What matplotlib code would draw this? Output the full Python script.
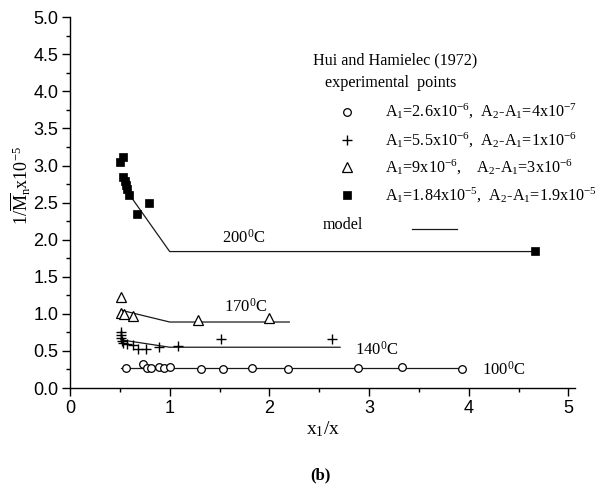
import matplotlib
matplotlib.use("Agg")
import matplotlib.pyplot as plt

plt.rcParams['mathtext.fontset'] = 'custom'
plt.rcParams['mathtext.rm'] = 'Liberation Serif'
plt.rcParams['mathtext.it'] = 'Liberation Serif:italic'
plt.rcParams['mathtext.bf'] = 'Liberation Serif:bold'

SERIF = 'Liberation Serif'
SANS = 'Liberation Sans'

# Experimental points (Hui and Hamielec, 1972)
circ_x = [0.56, 0.735, 0.775, 0.81, 0.895, 0.945, 1.0, 1.31, 1.535, 1.825, 2.19, 2.89, 3.33, 3.935]
circ_y = [0.27, 0.32, 0.27, 0.27, 0.28, 0.265, 0.28, 0.25, 0.26, 0.27, 0.25, 0.27, 0.29, 0.26]

plus_x = [0.51, 0.51, 0.51, 0.52, 0.535, 0.57, 0.63, 0.685, 0.76, 0.895, 1.085, 1.515, 2.63]
plus_y = [0.76, 0.715, 0.67, 0.64, 0.61, 0.59, 0.58, 0.525, 0.52, 0.55, 0.56, 0.66, 0.66]

tri_x = [0.51, 0.515, 0.54, 0.63, 1.285, 2.0]
tri_y = [1.23, 1.015, 1.0, 0.975, 0.915, 0.95]

sq_x = [0.50, 0.53, 0.53, 0.55, 0.56, 0.57, 0.59, 0.79, 0.67, 4.67]
sq_y = [3.05, 3.11, 2.85, 2.79, 2.74, 2.68, 2.60, 2.50, 2.35, 1.85]

# Model curves
m100_x, m100_y = [0.51, 3.935], [0.265, 0.265]
m140_x, m140_y = [0.51, 1.0, 2.71], [0.65, 0.55, 0.55]
m170_x, m170_y = [0.51, 1.0, 2.2], [1.05, 0.89, 0.89]
m200_x, m200_y = [0.60, 1.0, 4.67], [2.60, 1.84, 1.84]

temps = ['100$^0$C', '140$^0$C', '170$^0$C', '200$^0$C']
temp_pos = [(4.135, 0.24), (2.86, 0.51), (1.55, 1.10), (1.52, 2.03)]

legend_labels = [
    'A$_1$=2.6x10$^{-6}$,  A$_2$-A$_1$=4x10$^{-7}$',
    'A$_1$=5.5x10$^{-6}$,  A$_2$-A$_1$=1x10$^{-6}$',
    'A$_1$=9x10$^{-6}$,    A$_2$-A$_1$=3x10$^{-6}$',
    'A$_1$=1.84x10$^{-5}$,  A$_2$-A$_1$=1.9x10$^{-5}$',
]

fig = plt.figure(figsize=(6.11, 4.86), dpi=100)
ax = fig.add_axes([0.1146, 0.2016, 0.827, 0.763])

line_kw = dict(color='#1a1a1a', lw=0.9, zorder=2)
for mx, my in [(m100_x, m100_y), (m140_x, m140_y), (m170_x, m170_y), (m200_x, m200_y)]:
    ax.plot(mx, my, **line_kw)

styles = [
    dict(marker='o', ms=5.5, mfc='white', mec='black', mew=0.9),
    dict(marker='+', ms=6.5, mec='black', mew=1.0),
    dict(marker='^', ms=6.5, mfc='white', mec='black', mew=0.9),
    dict(marker='s', ms=6.0, mfc='black', mec='black', mew=0.5),
]
for (xs, ys), st in zip([(circ_x, circ_y), (plus_x, plus_y), (tri_x, tri_y), (sq_x, sq_y)], styles):
    ax.plot(xs, ys, ls='none', zorder=3, **st)

for t, (tx, ty) in zip(temps, temp_pos):
    ax.text(tx, ty, t, fontsize=12, family=SERIF, ha='left', va='center')

# Legend block
LFS = 11.6
ax.text(0.481, 0.884, 'Hui and Hamielec (1972)', transform=ax.transAxes,
        fontsize=LFS, family=SERIF, ha='left', va='center')
ax.text(0.505, 0.822, 'experimental  points', transform=ax.transAxes,
        fontsize=LFS, family=SERIF, ha='left', va='center')
row_y = [0.745, 0.668, 0.596, 0.520]
for lab, ry, st in zip(legend_labels, row_y, styles):
    ax.plot([0.548], [ry], transform=ax.transAxes, ls='none', clip_on=False, **st)
    ax.text(0.624, ry, lab, transform=ax.transAxes, fontsize=LFS, family=SERIF,
            ha='left', va='center')
ax.text(0.501, 0.439, 'model', transform=ax.transAxes, fontsize=LFS, family=SERIF,
        ha='left', va='center')
ax.plot([0.677, 0.766], [0.429, 0.429], transform=ax.transAxes, **line_kw)

ax.set_xlim(0, 5.07)
ax.set_ylim(0, 5.0)
ax.set_xticks([0, 1, 2, 3, 4, 5])
ax.set_xticks([0.5, 1.5, 2.5, 3.5, 4.5], minor=True)
ax.set_yticks([0.0, 0.5, 1.0, 1.5, 2.0, 2.5, 3.0, 3.5, 4.0, 4.5, 5.0])
ax.set_yticks([0.25 + 0.5 * i for i in range(10)], minor=True)
ax.set_yticklabels(['%.1f' % v for v in ax.get_yticks()])

for s in ['top', 'right']:
    ax.spines[s].set_visible(False)
for s in ['left', 'bottom']:
    ax.spines[s].set_linewidth(1.0)
ax.tick_params(which='major', direction='out', length=5.5, width=1.0, labelsize=13, pad=3)
ax.tick_params(which='minor', direction='out', length=3, width=1.0)
for lbl in ax.get_xticklabels() + ax.get_yticklabels():
    lbl.set_family(SANS)

ax.set_xlabel('x$_1$/x', fontsize=14, family=SERIF, labelpad=2)
ax.set_ylabel(r'1/$\overline{\mathregular{M}}_\mathregular{n}$x10$^{-5}$', fontsize=13,
              family=SERIF, labelpad=2)
ax.yaxis.set_label_coords(-0.073, 0.545)

fig.text(0.524, 0.021, '(b)', fontsize=12, family=SERIF, weight='bold',
         ha='center', va='center')

fig.savefig('out.png', dpi=100)
